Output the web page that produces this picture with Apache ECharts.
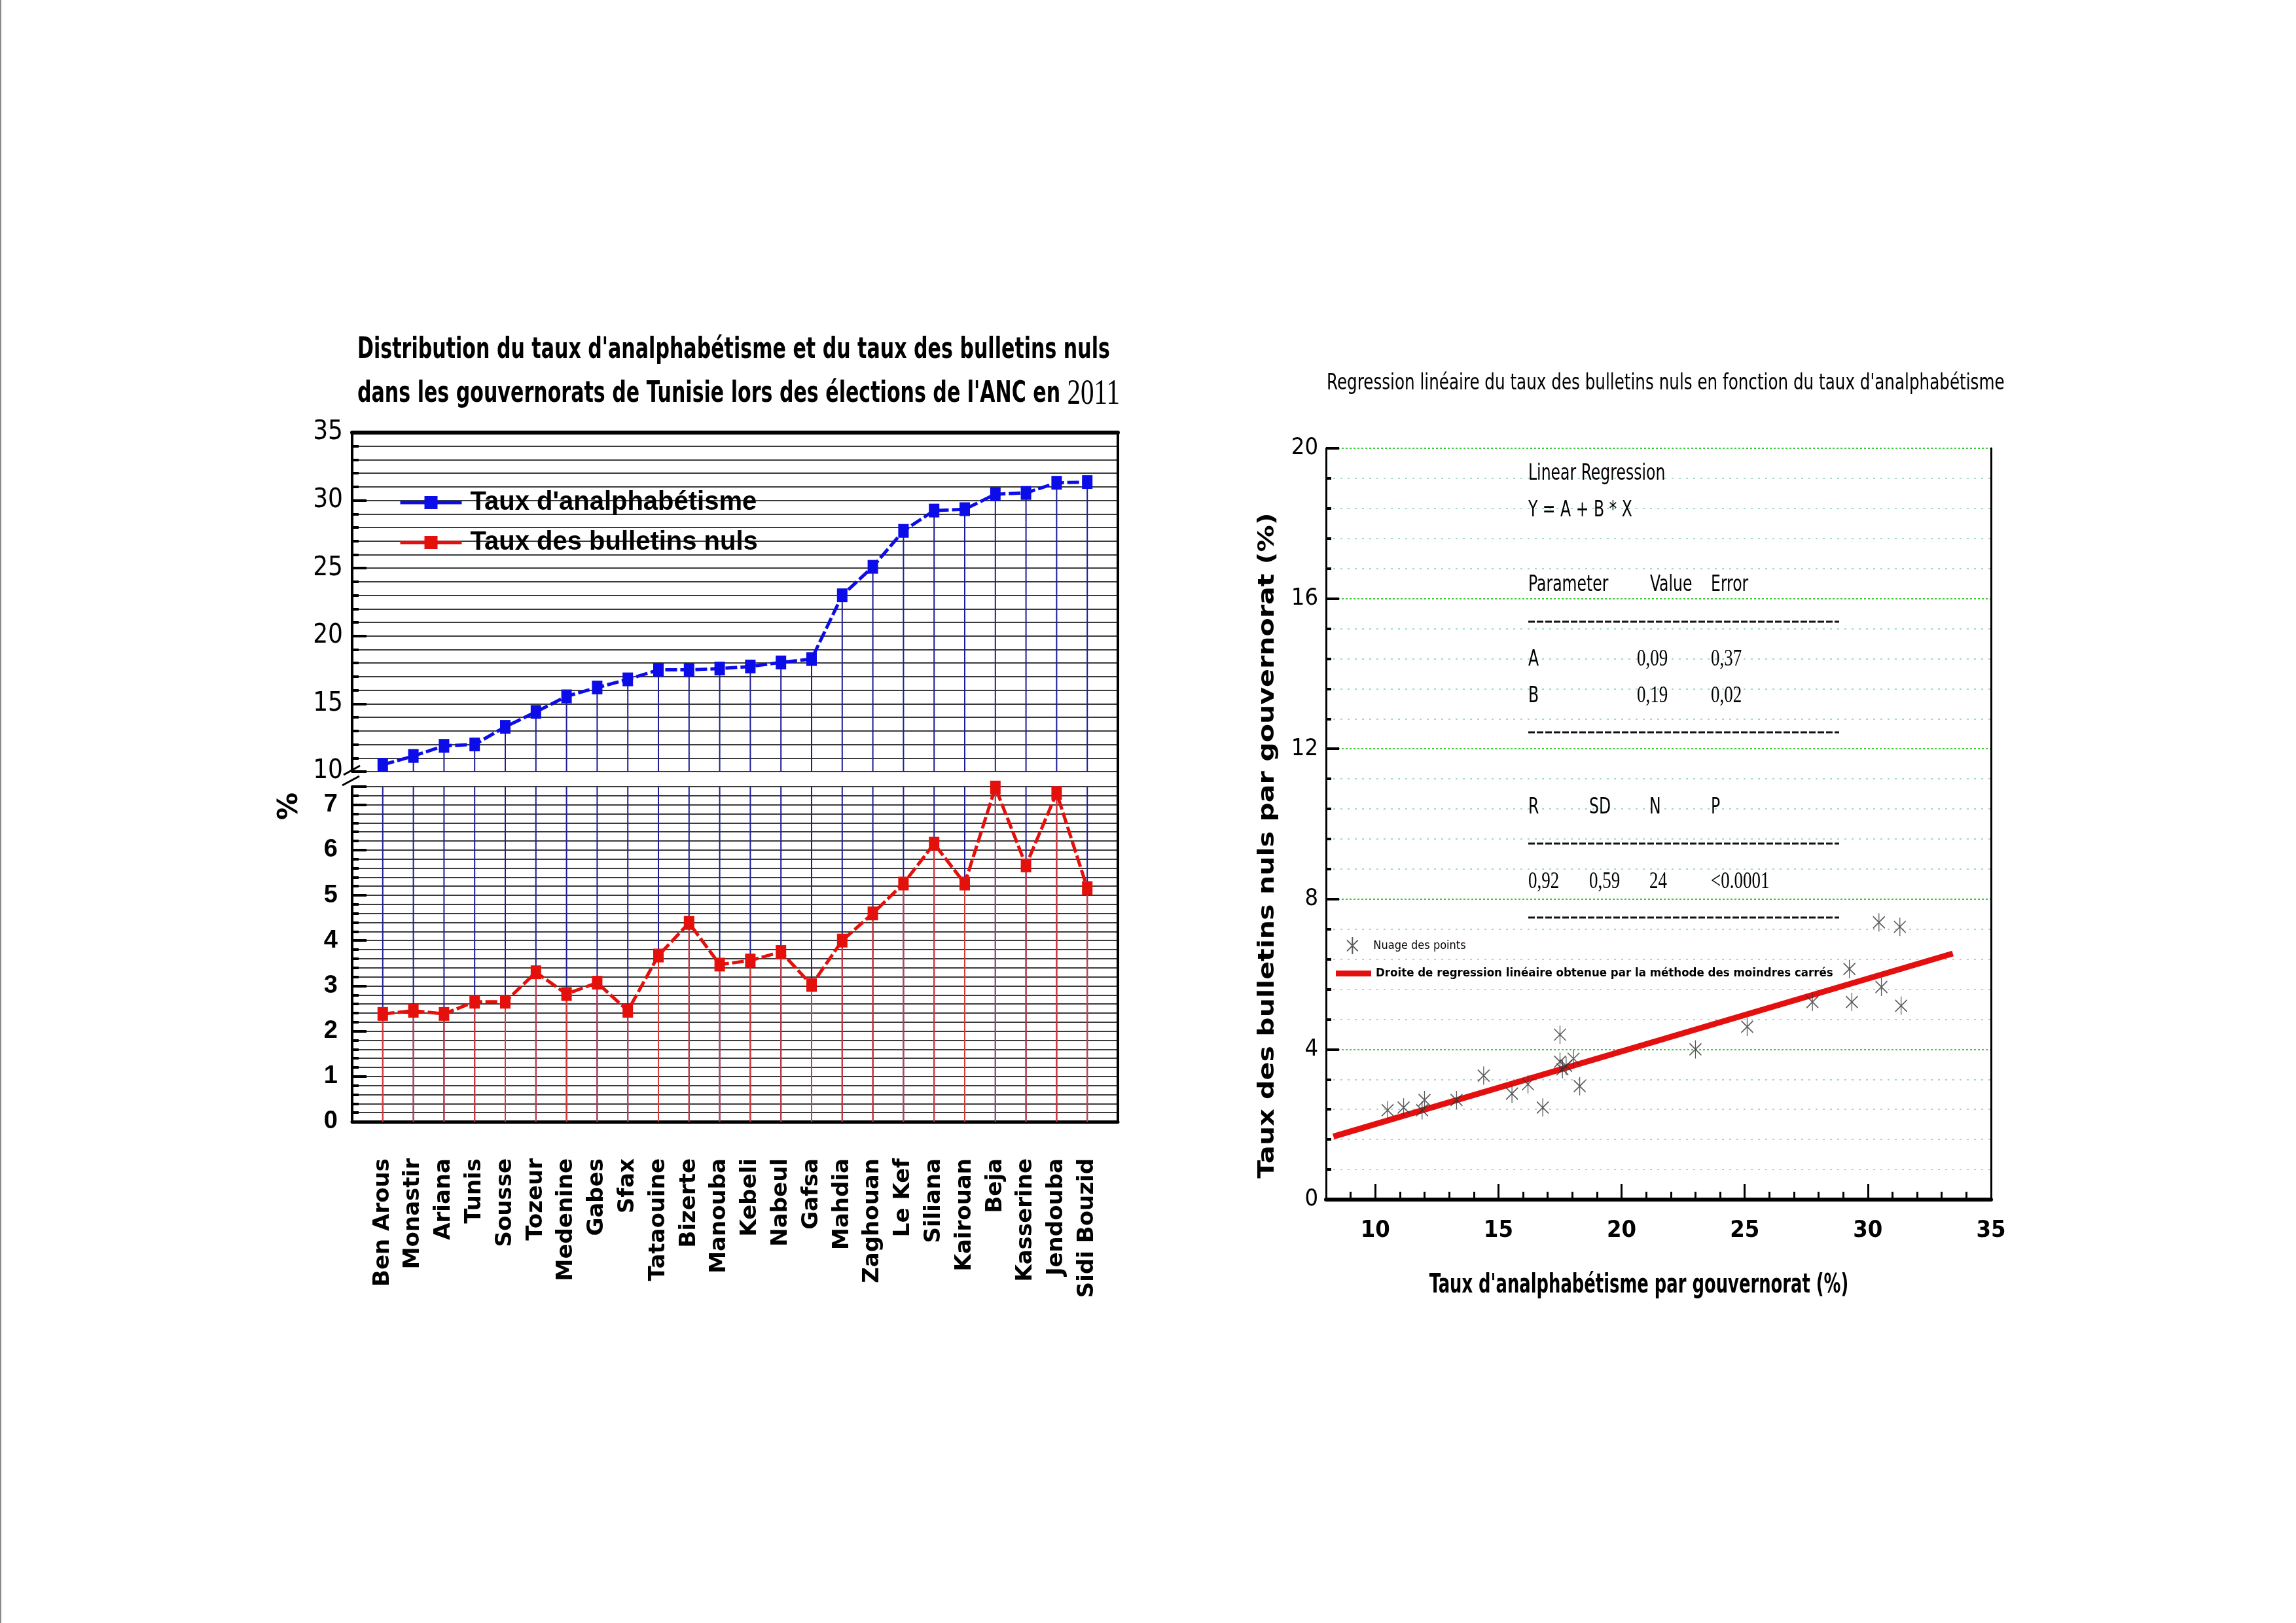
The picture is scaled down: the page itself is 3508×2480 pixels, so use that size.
<!DOCTYPE html>
<html><head><meta charset="utf-8">
<script src="https://cdn.jsdelivr.net/npm/echarts@6/dist/echarts.min.js"></script>
<style>html,body{margin:0;padding:0;background:#fff}#c{width:3508px;height:2480px}</style>
</head><body><div id="c"></div>
<script>
// ---------- DATA ----------
const categories = ['Ben Arous','Monastir','Ariana','Tunis','Sousse','Tozeur','Medenine','Gabes','Sfax','Tataouine','Bizerte','Manouba','Kebeli','Nabeul','Gafsa','Mahdia','Zaghouan','Le Kef','Siliana','Kairouan','Beja','Kasserine','Jendouba','Sidi Bouzid'];
const illiteracy = [10.5,11.15,11.9,12.0,13.3,14.4,15.55,16.2,16.8,17.5,17.5,17.6,17.75,18.05,18.3,23.0,25.1,27.75,29.25,29.35,30.45,30.55,31.3,31.35];
const nullBallots = [2.38,2.45,2.38,2.65,2.65,3.30,2.82,3.07,2.45,3.67,4.39,3.47,3.56,3.75,3.02,4.0,4.6,5.26,6.14,5.26,7.38,5.66,7.26,5.16];
const regressionX = [8.3, 33.45];
const regressionY = [1.68, 6.55];
const upperTicks = [10, 35, 5];   // min, max, label step
const lowerTicks = [0, 7.4, 1];
const scatterXTicks = [8, 35];
const scatterYTicks = [0, 20, 4];
const seriesNames = ["Taux d'analphabétisme", 'Taux des bulletins nuls'];
const scatterNames = ['Nuage des points', 'Droite de regression linéaire obtenue par la méthode des moindres carrés'];
const titleLeft = ["Distribution du taux d'analphabétisme et du taux des bulletins nuls", "dans les gouvernorats de Tunisie lors des élections de l'ANC en ", '2011'];
const titleRight = "Regression linéaire du taux des bulletins nuls en fonction du taux d'analphabétisme";
const statsHeader = ['Parameter', 'Value', 'Error'];
const statsA = ['A', '0,09', '0,37'];
const statsB = ['B', '0,19', '0,02'];
const statsFitHeader = ['R', 'SD', 'N', 'P'];
const statsFit = ['0,92', '0,59', '24', '<0.0001'];

// ---------- LAYOUT ----------
const NARROW = "'Liberation Sans Narrow','Arial Narrow','DejaVu Sans Condensed',sans-serif";
const WIDE = "'DejaVu Sans',Verdana,sans-serif";
const SANS = "'Liberation Sans',Arial,sans-serif";
const SERIF = "'Liberation Serif','Times New Roman',serif";
const G0 = {left:538, top:661, width:1170, height:518};
const G1 = {left:538, top:1202, width:1170, height:512};
const G2 = {left:2026, top:685, width:1016, height:1148};

const blueData = illiteracy.map((v,i)=>[i+1, v]);
const redData = nullBallots.map((v,i)=>[i+1, v]);
const scatterData = illiteracy.map((v,i)=>[v, nullBallots[i]]);
const regData = regressionX.map((x,i)=>[x, regressionY[i]]);
const isInt = v => Math.abs(v - Math.round(v)) < 1e-6;

const chart = echarts.init(document.getElementById('c'));
const blk = '#000';
const gridLine = {lineStyle:{color:'#3a3a3a', width:2}};

function txt(x, y, s, opt) {
  opt = opt || {};
  return {type:'text', x:x, y:y, rotation:opt.rot||0, scaleX:opt.sx||1, scaleY:opt.sy||1, z:100,
    style:{text:s, fill:'#000', font:(opt.weight||'normal')+' '+(opt.size||34)+'px '+(opt.family||NARROW),
      textAlign:opt.align||'left', textVerticalAlign:'middle'}};
}
const NS = 0.77; // horizontal squeeze for narrow text
const num = (x, y, s) => txt(x, y, s, {family:SERIF, size:36, sx:0.75});
const lab = (x, y, s) => txt(x, y, s, {sx:NS});
function dash(y) {
  return {type:'line', z:100, shape:{x1:2335,y1:y,x2:2810,y2:y}, style:{stroke:'#111', lineWidth:3, lineDash:[10,3]}};
}
const cols = [2335, 2428, 2520, 2614];
const graphics = [
  {type:'line', shape:{x1:1,y1:0,x2:1,y2:2480}, style:{stroke:'#888', lineWidth:2}},
  {type:'line', shape:{x1:G0.left+G0.width, y1:G0.top, x2:G0.left+G0.width, y2:G1.top+G1.height}, style:{stroke:blk, lineWidth:4}, z:100},
  {type:'line', shape:{x1:525,y1:1184,x2:550,y2:1170}, style:{stroke:blk, lineWidth:3}, z:100},
  {type:'line', shape:{x1:523,y1:1200,x2:549,y2:1186}, style:{stroke:blk, lineWidth:3}, z:100},
  txt(443, 1232, '%', {rot:Math.PI/2, weight:'bold', size:42, family:WIDE, align:'center'}),
  {type:'text', x:546, y:502, scaleX:0.76, z:100, style:{text:'{a|'+titleLeft[0]+'}\n{a|'+titleLeft[1]+'}{b|'+titleLeft[2]+'}',
     rich:{a:{font:'bold 44px '+NARROW, fill:'#000', lineHeight:67}, b:{font:'normal 54px '+SERIF, fill:'#000', lineHeight:67}}}},
  txt(2027, 586, titleRight, {size:33, sx:0.83}),
  txt(1937, 1292, 'Taux des bulletins nuls par gouvernorat (%)', {rot:Math.PI/2, weight:'bold', size:34, family:WIDE, align:'center', sx:1.21}),
  txt(2504, 1964, "Taux d'analphabétisme par gouvernorat (%)", {weight:'bold', size:41, align:'center', sx:0.7}),
  lab(2335, 724, 'Linear Regression'),
  lab(2335, 780, 'Y = A + B * X'),
  lab(cols[0], 894, statsHeader[0]), lab(2521, 894, statsHeader[1]), lab(cols[3], 894, statsHeader[2]),
  dash(950),
  lab(cols[0], 1008, statsA[0]), num(2501, 1008, statsA[1]), num(cols[3], 1008, statsA[2]),
  lab(cols[0], 1064, statsB[0]), num(2501, 1064, statsB[1]), num(cols[3], 1064, statsB[2]),
  dash(1119),
  lab(cols[0], 1234, statsFitHeader[0]), lab(cols[1], 1234, statsFitHeader[1]), lab(cols[2], 1234, statsFitHeader[2]), lab(cols[3], 1234, statsFitHeader[3]),
  dash(1289),
  num(cols[0], 1348, statsFit[0]), num(cols[1], 1348, statsFit[1]), num(cols[2], 1348, statsFit[2]), num(cols[3], 1348, statsFit[3]),
  dash(1402)
];

const asterisk = 'path://M10,0L10,28M1,5L19,23M1,23L19,5';

const option = {
  backgroundColor:'#fff',
  animation:false,
  grid:[G0, G1, G2],
  xAxis:[
    {gridIndex:0, type:'value', min:0, max:25, position:'top', axisLine:{lineStyle:{color:blk, width:6}}, axisTick:{show:false}, axisLabel:{show:false}, splitLine:{show:false}},
    {gridIndex:1, type:'value', min:0, max:25, interval:1, position:'bottom', axisLine:{onZero:false, lineStyle:{color:blk, width:5}}, axisTick:{show:false},
      axisLabel:{rotate:90, margin:56, fontFamily:WIDE, fontWeight:'bold', fontSize:34, color:blk, formatter:v=>categories[v-1]||''}, splitLine:{show:false}},
    {gridIndex:2, type:'value', min:scatterXTicks[0], max:scatterXTicks[1], splitNumber:5, position:'bottom', axisLine:{onZero:false, lineStyle:{color:blk, width:4}},
      axisTick:{inside:true, length:24, lineStyle:{width:3, color:blk}},
      axisLabel:{formatter:v=> (v%5===0 ? String(v) : ''), fontFamily:NARROW, fontWeight:'bold', fontSize:36, margin:30, color:blk}, splitLine:{show:false}},
    {gridIndex:2, type:'value', min:scatterXTicks[0], max:scatterXTicks[1], interval:1, position:'bottom', axisLine:{show:false},
      axisTick:{inside:true, length:12, lineStyle:{width:3, color:blk}}, axisLabel:{show:false}, splitLine:{show:false}},
    {gridIndex:2, type:'value', min:scatterXTicks[0], max:scatterXTicks[1], position:'top', axisLine:{lineStyle:{color:blk, width:6}}, axisTick:{show:false}, axisLabel:{show:false}, splitLine:{show:false}}
  ],
  yAxis:[
    {gridIndex:0, type:'value', position:'left', min:upperTicks[0], max:upperTicks[1], interval:1, axisLine:{lineStyle:{color:blk, width:4}},
      axisTick:{inside:true, length:10, lineStyle:{width:4, color:blk}}, axisLabel:{show:false}, splitLine:gridLine},
    {gridIndex:0, type:'value', position:'left', min:upperTicks[0], max:upperTicks[1], interval:upperTicks[2], axisLine:{show:false},
      axisTick:{inside:true, length:22, lineStyle:{width:4, color:blk}}, axisLabel:{fontFamily:NARROW, fontSize:40, color:blk, margin:14}, splitLine:{show:false}},
    {gridIndex:1, type:'value', position:'left', min:lowerTicks[0], max:lowerTicks[1], interval:0.2, axisLine:{lineStyle:{color:blk, width:4}},
      axisTick:{inside:true, length:10, lineStyle:{width:4, color:blk}}, axisLabel:{show:false}, splitLine:gridLine},
    {gridIndex:1, type:'value', position:'left', min:lowerTicks[0], max:lowerTicks[1], interval:lowerTicks[2], axisLine:{show:false},
      axisTick:{inside:true, length:22, lineStyle:{width:4, color:blk}}, axisLabel:{fontFamily:SANS, fontWeight:'bold', fontSize:38, color:blk, margin:22, formatter:v=> isInt(v)? String(Math.round(v)) : ''}, splitLine:{show:false}},
    {gridIndex:2, type:'value', position:'left', min:scatterYTicks[0], max:scatterYTicks[1], interval:scatterYTicks[2], axisLine:{onZero:false, lineStyle:{color:blk, width:3}},
      axisTick:{inside:true, length:20, lineStyle:{width:4, color:blk}}, minorTick:{show:true, splitNumber:5, length:8, lineStyle:{width:4, color:blk}},
      axisLabel:{fontFamily:NARROW, fontSize:36, color:blk, margin:12},
      splitLine:{lineStyle:{color:'#3ccc3c', type:[3,3], width:2}},
      minorSplitLine:{show:true, lineStyle:{color:'#9fd9d2', type:[3,8], width:2}}},
    {gridIndex:2, type:'value', position:'right', min:scatterYTicks[0], max:scatterYTicks[1], axisLine:{lineStyle:{color:blk, width:3}}, axisTick:{show:false}, axisLabel:{show:false}, splitLine:{show:false}}
  ],
  legend:[
    {data:seriesNames, orient:'vertical', left:604, top:743, itemWidth:94, itemHeight:25, itemGap:21,
      lineStyle:{type:'solid', width:5}, itemStyle:{},
      textStyle:{fontFamily:SANS, fontWeight:'bold', fontSize:40, color:blk, padding:[0,0,0,8]}},
    {data:[{name:scatterNames[0]}], left:2052, top:1426, itemWidth:18, itemHeight:26,
      textStyle:{fontFamily:NARROW, fontWeight:'normal', fontSize:18, color:blk, padding:[0,0,0,18]}},
    {data:[{name:scatterNames[1], icon:'rect'}], left:2036, top:1473, itemWidth:54, itemHeight:9,
      textStyle:{fontFamily:NARROW, fontWeight:'bold', fontSize:18.5, color:blk, padding:[0,0,0,2]}}
  ],
  series:[
    {type:'bar', name:'dropUpper', xAxisIndex:0, yAxisIndex:0, data:blueData, barWidth:2, clip:true, silent:true, itemStyle:{color:'#1e1e98'}, z:2},
    {type:'bar', name:'dropLowerBlue', xAxisIndex:1, yAxisIndex:2, data:blueData, barWidth:2, barGap:'-100%', clip:true, silent:true, itemStyle:{color:'#1e1e98'}, z:2},
    {type:'bar', name:'dropLowerRed', xAxisIndex:1, yAxisIndex:2, data:redData, barWidth:2, barGap:'-100%', clip:true, silent:true, itemStyle:{color:'#d83a3a'}, z:3},
    {type:'line', name:seriesNames[0], xAxisIndex:0, yAxisIndex:0, data:blueData, symbol:'rect', symbolSize:[16,21],
      lineStyle:{color:'#0c0ce8', width:5, type:[18,5]}, itemStyle:{color:'#0c0ce8'}, z:5},
    {type:'line', name:seriesNames[1], xAxisIndex:1, yAxisIndex:2, data:redData, symbol:'rect', symbolSize:[16,21],
      lineStyle:{color:'#e4100c', width:5, type:[18,5]}, itemStyle:{color:'#e4100c'}, z:5},
    {type:'scatter', name:scatterNames[0], xAxisIndex:2, yAxisIndex:4, data:scatterData, symbol:asterisk, symbolSize:[18,28],
      itemStyle:{color:'rgba(0,0,0,0)', borderColor:'#333', borderWidth:1.6}, z:6},
    {type:'line', name:scatterNames[1], xAxisIndex:2, yAxisIndex:4, data:regData, symbol:'none',
      lineStyle:{color:'#e41010', width:9}, itemStyle:{color:'#e41010'}, z:5}
  ],
  graphic:graphics
};
chart.setOption(option);
</script></body></html>
